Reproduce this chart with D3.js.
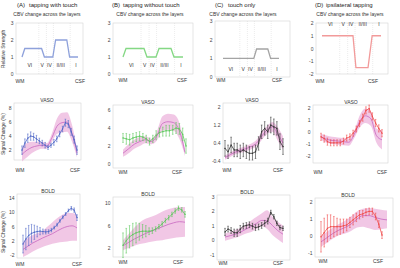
<!DOCTYPE html>
<html>
<head>
<meta charset="utf-8">
<title>CBV, VASO and BOLD layer profiles</title>
<style>
  html, body { margin: 0; padding: 0; background: #fff; }
  svg { display: block; font-family: "Liberation Sans", Arial, sans-serif; }
</style>
<script src="https://cdn.jsdelivr.net/npm/d3@7/dist/d3.min.js"></script>
</head>
<body>
<svg id="chart" width="400" height="268"></svg>
<script>
// ---------- data ----------
// cortical depth runs 0 (WM) .. 20 (CSF)
const layerNames = ["VI", "V", "IV", "II/III", "I"];
const layerDepth = [2.8, 7.2, 9.8, 13.8, 19.3];
const layerEdges = [6, 8.7, 11.2, 17.2];

// CBV model profiles [depth, relative strength]
const cbvA = [[0,1],[1,1.5],[7,1.5],[8,1],[11,1],[12,2],[16,2],[17,1],[20,1]];
const cbvB = [[0,1],[1,1.5],[7,1.5],[8,1],[11,1],[12,1.5],[16,1.5],[17,1],[20,1]];
const cbvC = [[0,1],[11,1],[12,1.5],[16,1.5],[17,1],[20,1]];
const cbvD = [[0,1],[10.5,1],[11.5,-1.5],[15.6,-1.5],[17,1],[20,1]];

// VASO measured profiles (20 depths) and error bars
const vasoA    = [2.0,3.0,3.7,4.0,3.9,3.6,3.3,3.0,2.7,2.4,2.7,3.1,3.6,4.3,5.0,5.9,5.7,4.6,3.5,2.0];
const vasoAErr = [0.6,0.6,0.6,0.6,0.5,0.5,0.4,0.4,0.4,0.3,0.3,0.4,0.4,0.4,0.4,0.5,0.5,0.5,0.5,0.6];
const vasoB    = [2.9,2.8,2.7,2.9,3.0,3.1,3.0,2.8,2.5,2.8,3.2,3.5,3.6,3.7,3.7,3.8,4.0,3.9,3.3,2.0];
const vasoBErr = [0.5,0.6,0.6,0.5,0.5,0.5,0.4,0.4,0.4,0.4,0.5,0.5,0.5,0.6,0.6,0.5,0.6,0.6,0.7,0.8];
const vasoC    = [0.16,0.01,0.31,0.09,0.09,0.01,0.09,0.01,-0.06,-0.06,0.01,0.38,0.9,1.05,0.9,1.2,1.12,1.05,0.46,0.24];
const vasoCErr = [0.35,0.3,0.35,0.3,0.3,0.3,0.3,0.3,0.3,0.3,0.3,0.3,0.3,0.3,0.3,0.35,0.35,0.3,0.35,0.35];
const vasoD    = [-0.4,-0.55,-0.8,-0.9,-0.9,-0.9,-0.9,-0.75,-0.5,-0.4,-0.1,0.25,0.7,1.2,1.8,1.95,1.3,0.75,0.3,-0.1];
const vasoDErr = [0.3,0.3,0.3,0.25,0.25,0.25,0.25,0.25,0.25,0.25,0.25,0.25,0.25,0.3,0.3,0.3,0.3,0.3,0.3,0.3];

// VASO reference (pink) mean and band, 12 depths
const vasoRefA   = [1.4,2.0,2.4,2.6,2.7,2.6,3.8,5.4,5.9,6.0,4.4,1.6];
const vasoRefALo = [0.4,1.0,1.6,2.0,2.2,2.2,3.2,4.3,4.5,4.6,3.2,1.0];
const vasoRefAHi = [2.4,3.0,3.2,3.2,3.2,3.0,4.4,6.5,7.3,7.4,5.6,2.2];
const vasoRefB   = [1.2,1.7,2.2,2.5,2.7,2.5,3.1,4.5,4.7,4.6,3.7,1.3];
const vasoRefBLo = [0.8,1.2,1.7,2.0,2.3,2.2,2.6,3.7,3.8,3.7,2.8,0.9];
const vasoRefBHi = [1.6,2.2,2.7,3.0,3.1,2.8,3.6,5.3,5.6,5.5,4.6,1.7];
const vasoRefC   = [-0.25,-0.12,0.0,0.08,0.15,0.25,0.4,0.72,0.98,1.12,0.8,0.4];
const vasoRefCLo = [-0.35,-0.22,-0.1,-0.03,0.03,0.12,0.25,0.55,0.8,0.9,0.5,0.1];
const vasoRefCHi = [-0.15,-0.02,0.1,0.19,0.27,0.38,0.55,0.9,1.16,1.34,1.1,0.7];
const vasoRefD   = [-0.4,-0.6,-0.7,-0.75,-0.8,-0.85,-0.2,0.9,1.35,1.1,-0.3,-0.65];
const vasoRefDLo = [-0.65,-0.9,-1.0,-1.05,-1.1,-1.15,-0.5,0.4,0.75,0.5,-0.9,-1.45];
const vasoRefDHi = [-0.15,-0.3,-0.4,-0.45,-0.5,-0.55,0.1,1.4,1.95,1.7,0.3,0.15];

// BOLD measured profiles
const boldA    = [1.1,2.5,3.5,4.1,4.4,4.6,4.7,4.6,4.5,4.6,5.0,5.7,6.5,7.6,8.6,9.5,10.5,11.1,10.6,8.5];
const boldAErr = [2.5,3.0,2.8,2.5,2.0,1.5,1.0,0.7,0.6,0.5,0.5,0.4,0.4,0.4,0.4,0.4,0.4,0.5,0.6,0.8];
const boldB    = [2.5,3.3,4.0,4.4,4.7,4.9,5.0,5.0,5.0,5.1,5.4,5.8,6.3,6.9,7.4,8.0,8.6,9.1,8.8,8.0];
const boldBErr = [2.2,2.2,2.0,2.0,1.8,1.5,1.2,1.0,0.6,0.5,0.4,0.4,0.4,0.4,0.4,0.4,0.4,0.4,0.4,0.5];
const boldC    = [0.55,0.75,0.65,0.5,0.5,0.75,0.95,1.0,1.05,0.95,0.85,0.9,1.0,1.15,1.3,1.9,1.6,1.15,0.85,0.8];
const boldCErr = [0.25,0.2,0.2,0.25,0.25,0.25,0.2,0.2,0.2,0.2,0.2,0.2,0.2,0.2,0.2,0.15,0.15,0.15,0.15,0.15];
const boldD    = [-0.05,0.2,0.45,0.55,0.55,0.55,0.55,0.6,0.65,0.8,0.95,1.1,1.25,1.3,1.4,1.45,1.45,1.15,0.7,0.05];
const boldDErr = [0.9,0.85,0.8,0.7,0.6,0.5,0.45,0.4,0.35,0.3,0.3,0.25,0.25,0.2,0.2,0.2,0.2,0.2,0.2,0.2];

// BOLD reference (pink)
const boldRefA   = [-0.4,0.5,1.4,2.1,2.8,3.4,4.0,4.8,5.5,6.0,6.2,5.6];
const boldRefALo = [-2.5,-1.8,-1.0,-0.3,0.3,0.8,1.2,1.5,1.7,1.8,2.0,2.0];
const boldRefAHi = [1.7,2.8,3.6,4.2,4.8,6.0,7.2,8.4,9.3,9.8,9.8,9.3];
const boldRefB   = [2.4,3.0,3.6,4.1,4.6,5.0,5.4,5.8,6.2,6.5,6.7,6.6];
const boldRefBLo = [1.6,2.0,2.4,2.7,2.9,3.1,3.3,3.4,3.6,3.8,3.9,4.0];
const boldRefBHi = [3.4,4.5,5.6,6.6,7.2,7.6,8.0,8.5,8.9,9.2,9.3,9.3];
const boldRefC   = [0.2,0.3,0.4,0.55,0.75,0.95,1.15,1.35,1.3,1.0,0.65,0.4];
const boldRefCLo = [-0.05,0.05,0.15,0.3,0.45,0.55,0.75,0.95,0.75,0.35,0.05,-0.2];
const boldRefCHi = [0.45,0.55,0.7,0.85,1.05,1.35,1.6,1.85,2.05,1.6,1.25,1.0];
const boldRefD   = [-0.35,-0.1,0.15,0.35,0.5,0.7,1.0,1.2,1.2,1.1,1.0,0.95];
const boldRefDLo = [-0.65,-0.4,-0.15,0.05,0.15,0.3,0.5,0.55,0.45,0.35,0.4,0.45];
const boldRefDHi = [0.0,0.25,0.5,0.7,0.9,1.15,1.45,1.6,1.65,1.6,1.55,1.5];

// ---------- layout ----------
const svg = d3.select("#chart");
svg.append("rect").attr("width", 400).attr("height", 268).attr("fill", "#fff");

const cbvPanels = [
  {tag: "(A)", name: "tapping with touch", data: cbvA, color: "#8ea1db", box: [16,83,23,74], dom: [0,3], ticks: [0,1,2,3], span: [22,78], labV: 0.4, tagX: 17, nameX: 29, subX: 47, wm: [20,80], wmY: 83},
  {tag: "(B)", name: "tapping without touch", data: cbvB, color: "#84d884", box: [113,193,23,74], dom: [0,3], ticks: [0,1,2,3], span: [123,183], labV: 0.4, tagX: 112, nameX: 123, subX: 150, wm: [123,182], wmY: 82},
  {tag: "(C)", name: "touch only", data: cbvC, color: "#a4a4a4", box: [215,290,21,77], dom: [0,3], ticks: [0,1,2,3], span: [223,279], labV: 0.33, tagX: 215, nameX: 228, subX: 243, wm: [221,277], wmY: 82},
  {tag: "(D)", name: "ipsilateral tapping", data: cbvD, color: "#f29a9a", box: [316,388,23,74], dom: [-2,2], ticks: [-2,-1,0,1,2], span: [322,381], labV: 1.75, tagX: 315, nameX: 326, subX: 350, wm: [320,373], wmY: 83}
];

const profPanels = [
  {title: "VASO", meas: vasoA, err: vasoAErr, mean: vasoRefA, lo: vasoRefALo, hi: vasoRefAHi, color: "#5068c8", box: [14,81,103,160], dom: [0.6,8.7], ticks: [2,4,6,8], span: [22,77], bandSpan: [22,77], titleX: 47, wm: [20,75], wmY: 172},
  {title: "VASO", meas: vasoB, err: vasoBErr, mean: vasoRefB, lo: vasoRefBLo, hi: vasoRefBHi, color: "#5cc85c", box: [113,193,105,168], dom: [-0.44,6.56], ticks: [0,2,4,6], span: [123,186], bandSpan: [123,185], titleX: 148, wm: [123,177], wmY: 174},
  {title: "VASO", meas: vasoC, err: vasoCErr, mean: vasoRefC, lo: vasoRefCLo, hi: vasoRefCHi, color: "#333333", box: [223,290,103,163], dom: [-0.49,2.18], ticks: [-0.4,0.4,1.2,2], span: [225,283], bandSpan: [225,283], titleX: 252, wm: [227,278], wmY: 172},
  {title: "VASO", meas: vasoD, err: vasoDErr, mean: vasoRefD, lo: vasoRefDLo, hi: vasoRefDHi, color: "#f04b4b", box: [313,388,105,163], dom: [-2.58,2.25], ticks: [-2,-1,0,1,2], span: [321,382], bandSpan: [321,382], titleX: 351, wm: [318,382], wmY: 174},
  {title: "BOLD", meas: boldA, err: boldAErr, mean: boldRefA, lo: boldRefALo, hi: boldRefAHi, color: "#5068c8", box: [17,80,194,258], dom: [-2.8,15.1], ticks: [-2,2,6,10,14], span: [23,77], bandSpan: [23,77], titleX: 48, wm: [20,77], wmY: 266},
  {title: "BOLD", meas: boldB, err: boldBErr, mean: boldRefB, lo: boldRefBLo, hi: boldRefBHi, color: "#5cc85c", box: [113,193,197,257], dom: [0.4,11.1], ticks: [2,6,10], span: [123,185], bandSpan: [123,185], titleX: 148, wm: [123,178], wmY: 264},
  {title: "BOLD", meas: boldC, err: boldCErr, mean: boldRefC, lo: boldRefCLo, hi: boldRefCHi, color: "#333333", box: [217,290,195,260], dom: [-1.38,3.1], ticks: [-1,0,1,2,3], span: [225,283], bandSpan: [225,283], titleX: 247, wm: [223,278], wmY: 265},
  {title: "BOLD", meas: boldD, err: boldDErr, mean: boldRefD, lo: boldRefDLo, hi: boldRefDHi, color: "#f04b4b", box: [315,393,198,257], dom: [-1.24,2.24], ticks: [-1,0,1,2], span: [321,382], bandSpan: [321,387], titleX: 348, wm: [323,378], wmY: 263}
];

function frame(p) {
  const [x0, x1, y0, y1] = p.box;
  svg.append("rect")
    .attr("x", x0).attr("y", y0).attr("width", x1 - x0).attr("height", y1 - y0)
    .attr("fill", "none").attr("stroke", "#d4d4d4").attr("stroke-width", 0.6);
  const y = d3.scaleLinear().domain(p.dom).range([y1, y0]);
  const ax = svg.append("g")
    .attr("transform", "translate(" + x0 + ",0)")
    .call(d3.axisLeft(y).tickValues(p.ticks).tickSize(0).tickPadding(2.5).tickFormat(d => String(d)));
  ax.select(".domain").remove();
  ax.selectAll("text").attr("font-size", 5).attr("fill", "#444").attr("font-family", "Liberation Sans, Arial, sans-serif");
  svg.append("text").attr("x", p.wm[0]).attr("y", p.wmY).attr("text-anchor", "middle")
    .attr("font-size", 5).attr("fill", "#333").text("WM");
  svg.append("text").attr("x", p.wm[1]).attr("y", p.wmY).attr("text-anchor", "middle")
    .attr("font-size", 5).attr("fill", "#333").text("CSF");
  return y;
}

// ---------- row 1: CBV model ----------
cbvPanels.forEach(p => {
  const y = frame(p);
  const x = d3.scaleLinear().domain([0, 20]).range(p.span);
  svg.append("g").selectAll("line").data(layerEdges).enter().append("line")
    .attr("x1", d => x(d)).attr("x2", d => x(d))
    .attr("y1", p.box[2]).attr("y2", p.box[3])
    .attr("stroke", "#cfcfcf").attr("stroke-width", 0.5).attr("stroke-dasharray", "0.8,1.2");
  svg.append("path").datum(p.data)
    .attr("d", d3.line().x(d => x(d[0])).y(d => y(d[1])))
    .attr("fill", "none").attr("stroke", p.color).attr("stroke-width", 1.3);
  svg.append("g").selectAll("text").data(layerNames).enter().append("text")
    .attr("x", (d, i) => x(layerDepth[i])).attr("y", y(p.labV))
    .attr("text-anchor", "middle").attr("font-size", 5).attr("fill", "#333").text(d => d);
  svg.append("text").attr("x", p.tagX).attr("y", 7).attr("font-size", 6).attr("fill", "#222").text(p.tag);
  svg.append("text").attr("x", p.nameX).attr("y", 7).attr("font-size", 6).attr("fill", "#222").text(p.name);
  svg.append("text").attr("x", p.subX).attr("y", 16).attr("text-anchor", "middle")
    .attr("font-size", 5).attr("fill", "#333").text("CBV change across the layers");
});

// ---------- rows 2-3: VASO / BOLD profiles ----------
profPanels.forEach(p => {
  const y = frame(p);
  const xm = d3.scaleLinear().domain([0, p.meas.length - 1]).range(p.span);
  const xb = d3.scaleLinear().domain([0, p.mean.length - 1]).range(p.bandSpan);

  svg.append("path").datum(p.mean)
    .attr("d", d3.area().x((d, i) => xb(i)).y0((d, i) => y(p.lo[i])).y1((d, i) => y(p.hi[i])).curve(d3.curveMonotoneX))
    .attr("fill", "#efbde0").attr("opacity", 0.85);
  svg.append("path").datum(p.mean)
    .attr("d", d3.line().x((d, i) => xb(i)).y(d => y(d)).curve(d3.curveMonotoneX))
    .attr("fill", "none").attr("stroke", "#c867c0").attr("stroke-width", 0.8);

  const g = svg.append("g");
  g.selectAll(".eb").data(p.meas).enter().append("line")
    .attr("x1", (d, i) => xm(i)).attr("x2", (d, i) => xm(i))
    .attr("y1", (d, i) => y(d - p.err[i])).attr("y2", (d, i) => y(d + p.err[i]))
    .attr("stroke", p.color).attr("stroke-width", 0.6);
  g.selectAll(".cap").data(p.meas.concat(p.meas)).enter().append("line")
    .attr("x1", (d, i) => xm(i % p.meas.length) - 0.8).attr("x2", (d, i) => xm(i % p.meas.length) + 0.8)
    .attr("y1", (d, i) => y(i < p.meas.length ? d - p.err[i] : d + p.err[i % p.meas.length]))
    .attr("y2", (d, i) => y(i < p.meas.length ? d - p.err[i] : d + p.err[i % p.meas.length]))
    .attr("stroke", p.color).attr("stroke-width", 0.5);
  g.append("path").datum(p.meas)
    .attr("d", d3.line().x((d, i) => xm(i)).y(d => y(d)))
    .attr("fill", "none").attr("stroke", p.color).attr("stroke-width", 0.8);
  g.selectAll(".mk").data(p.meas).enter().append("rect")
    .attr("x", (d, i) => xm(i) - 0.6).attr("y", d => y(d) - 0.6)
    .attr("width", 1.2).attr("height", 1.2).attr("fill", p.color);

  svg.append("text").attr("x", p.titleX).attr("y", p.box[2] - 1.5).attr("text-anchor", "middle")
    .attr("font-size", 5).attr("fill", "#333").text(p.title);
});

// ---------- y axis titles ----------
[["Relative Strength", 49], ["Signal Change (%)", 134], ["Signal Change (%)", 232]].forEach(t => {
  svg.append("text")
    .attr("transform", "translate(5," + t[1] + ") rotate(-90)")
    .attr("text-anchor", "middle").attr("font-size", 5).attr("fill", "#333").text(t[0]);
});
</script>
</body>
</html>
